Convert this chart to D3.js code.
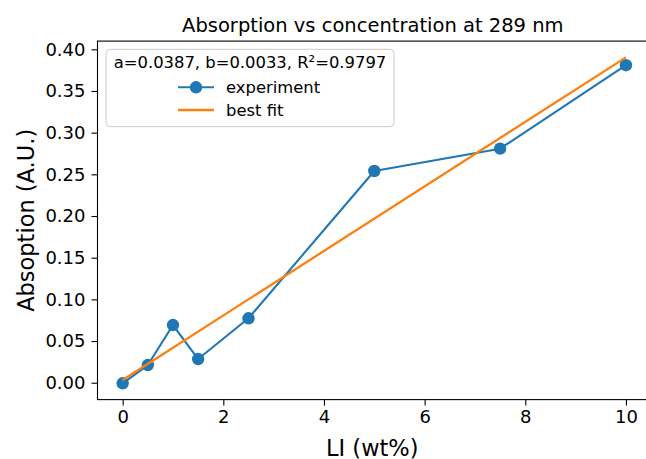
<!DOCTYPE html>
<html><head><meta charset="utf-8">
<script src="https://cdn.jsdelivr.net/npm/d3@7"></script>
<style>
html,body{margin:0;padding:0;background:#fff;}
text{font-family:"DejaVu Sans",sans-serif;fill:#000;}
</style></head>
<body><svg id="chart" width="646" height="459"></svg>
<script>
const concentration = [0, 0.5, 1, 1.5, 2.5, 5, 7.5, 10];
const absorption = [-0.0007, 0.0212, 0.0692, 0.0284, 0.0773, 0.254, 0.2808, 0.3809];
const fitA = 0.0387, fitB = 0.0033, fitR2 = 0.9797;
const xTicks = [0, 2, 4, 6, 8, 10];
const yTicks = [0, 0.05, 0.10, 0.15, 0.20, 0.25, 0.30, 0.35, 0.40];
const titleText = "Absorption vs concentration at 289 nm";
const xLabel = "LI (wt%)";
const yLabel = "Absoption (A.U.)";
const legendTitle = `a=${fitA.toFixed(4)}, b=${fitB.toFixed(4)}, R\u00b2=${fitR2.toFixed(4)}`;
const seriesNames = ["experiment", "best fit"];

(function () {
const svg = d3.select("#chart");
const blue = "#1f77b4", orange = "#ff7f0e";

const fitX = [d3.min(concentration), d3.max(concentration)];
const fitY = fitX.map(v => fitA * v + fitB);

const allY = absorption.concat(fitY);
const yMin = d3.min(allY), yMax = d3.max(allY), yR = yMax - yMin;
const xMin = d3.min(concentration), xMax = d3.max(concentration), xR = xMax - xMin;

const pL = 97.5, pR = 651.1, pT = 41.1, pB = 399.6;
const x = d3.scaleLinear().domain([xMin - 0.05 * xR, xMax + 0.05 * xR]).range([pL, pR]);
const y = d3.scaleLinear().domain([yMin - 0.05 * yR, yMax + 0.05 * yR]).range([pB, pT]);

const xAxis = d3.axisBottom(x).tickValues(xTicks).tickFormat(d3.format("d")).tickSize(6).tickPadding(5);
const yAxis = d3.axisLeft(y).tickValues(yTicks).tickFormat(d3.format(".2f")).tickSize(6).tickPadding(6);

const gx = svg.append("g").attr("transform", `translate(0,${pB})`).call(xAxis);
const gy = svg.append("g").attr("transform", `translate(${pL},0)`).call(yAxis);
[gx, gy].forEach(g => {
  g.select(".domain").remove();
  g.selectAll(".tick line").attr("stroke", "#000").attr("stroke-width", 1.1);
  g.selectAll(".tick text").attr("font-family", "DejaVu Sans").attr("font-size", 18).attr("fill", "#000");
});

svg.append("rect").attr("x", pL).attr("y", pT).attr("width", pR - pL).attr("height", pB - pT)
  .attr("fill", "none").attr("stroke", "#000").attr("stroke-width", 1.1);

const line = d3.line().x((d, i) => x(concentration[i])).y(d => y(d));
svg.append("path").datum(absorption).attr("d", line).attr("fill", "none")
  .attr("stroke", blue).attr("stroke-width", 2.1).attr("stroke-linejoin", "round");
svg.selectAll("circle.pt").data(absorption).enter().append("circle").attr("class", "pt")
  .attr("cx", (d, i) => x(concentration[i])).attr("cy", d => y(d)).attr("r", 6.2).attr("fill", blue);

const fitLine = d3.line().x((d, i) => x(fitX[i])).y(d => y(d));
svg.append("path").datum(fitY).attr("d", fitLine).attr("fill", "none")
  .attr("stroke", orange).attr("stroke-width", 2.3);

svg.append("text").attr("x", (pL + pR) / 2 - 1.5).attr("y", 31.5).attr("text-anchor", "middle")
  .attr("font-size", 19.5).text(titleText);
svg.append("text").attr("x", (pL + pR) / 2 - 2).attr("y", 455.5).attr("text-anchor", "middle")
  .attr("font-size", 22.5).text(xLabel);
svg.append("text").attr("transform", `translate(33.5,${(pT + pB) / 2}) rotate(-90)`)
  .attr("text-anchor", "middle").attr("font-size", 22.5).text(yLabel);

const lg = svg.append("g");
lg.append("rect").attr("x", 106).attr("y", 49.3).attr("width", 288).attr("height", 77.4).attr("rx", 4)
  .attr("fill", "#fff").attr("fill-opacity", 0.8).attr("stroke", "#cccccc").attr("stroke-width", 1);
lg.append("text").attr("x", 250).attr("y", 62.5).attr("dy", "0.35em").attr("text-anchor", "middle")
  .attr("font-size", 16.4).text(legendTitle);
const rows = [87.3, 110];
lg.append("line").attr("x1", 178).attr("x2", 214).attr("y1", rows[0]).attr("y2", rows[0])
  .attr("stroke", blue).attr("stroke-width", 2.1);
lg.append("circle").attr("cx", 196).attr("cy", rows[0]).attr("r", 6.2).attr("fill", blue);
lg.append("line").attr("x1", 178).attr("x2", 214).attr("y1", rows[1]).attr("y2", rows[1])
  .attr("stroke", orange).attr("stroke-width", 2.3);
seriesNames.forEach((n, i) => {
  lg.append("text").attr("x", 226).attr("y", rows[i]).attr("dy", "0.35em").attr("font-size", 16.4).text(n);
});
})();
</script></body></html>
